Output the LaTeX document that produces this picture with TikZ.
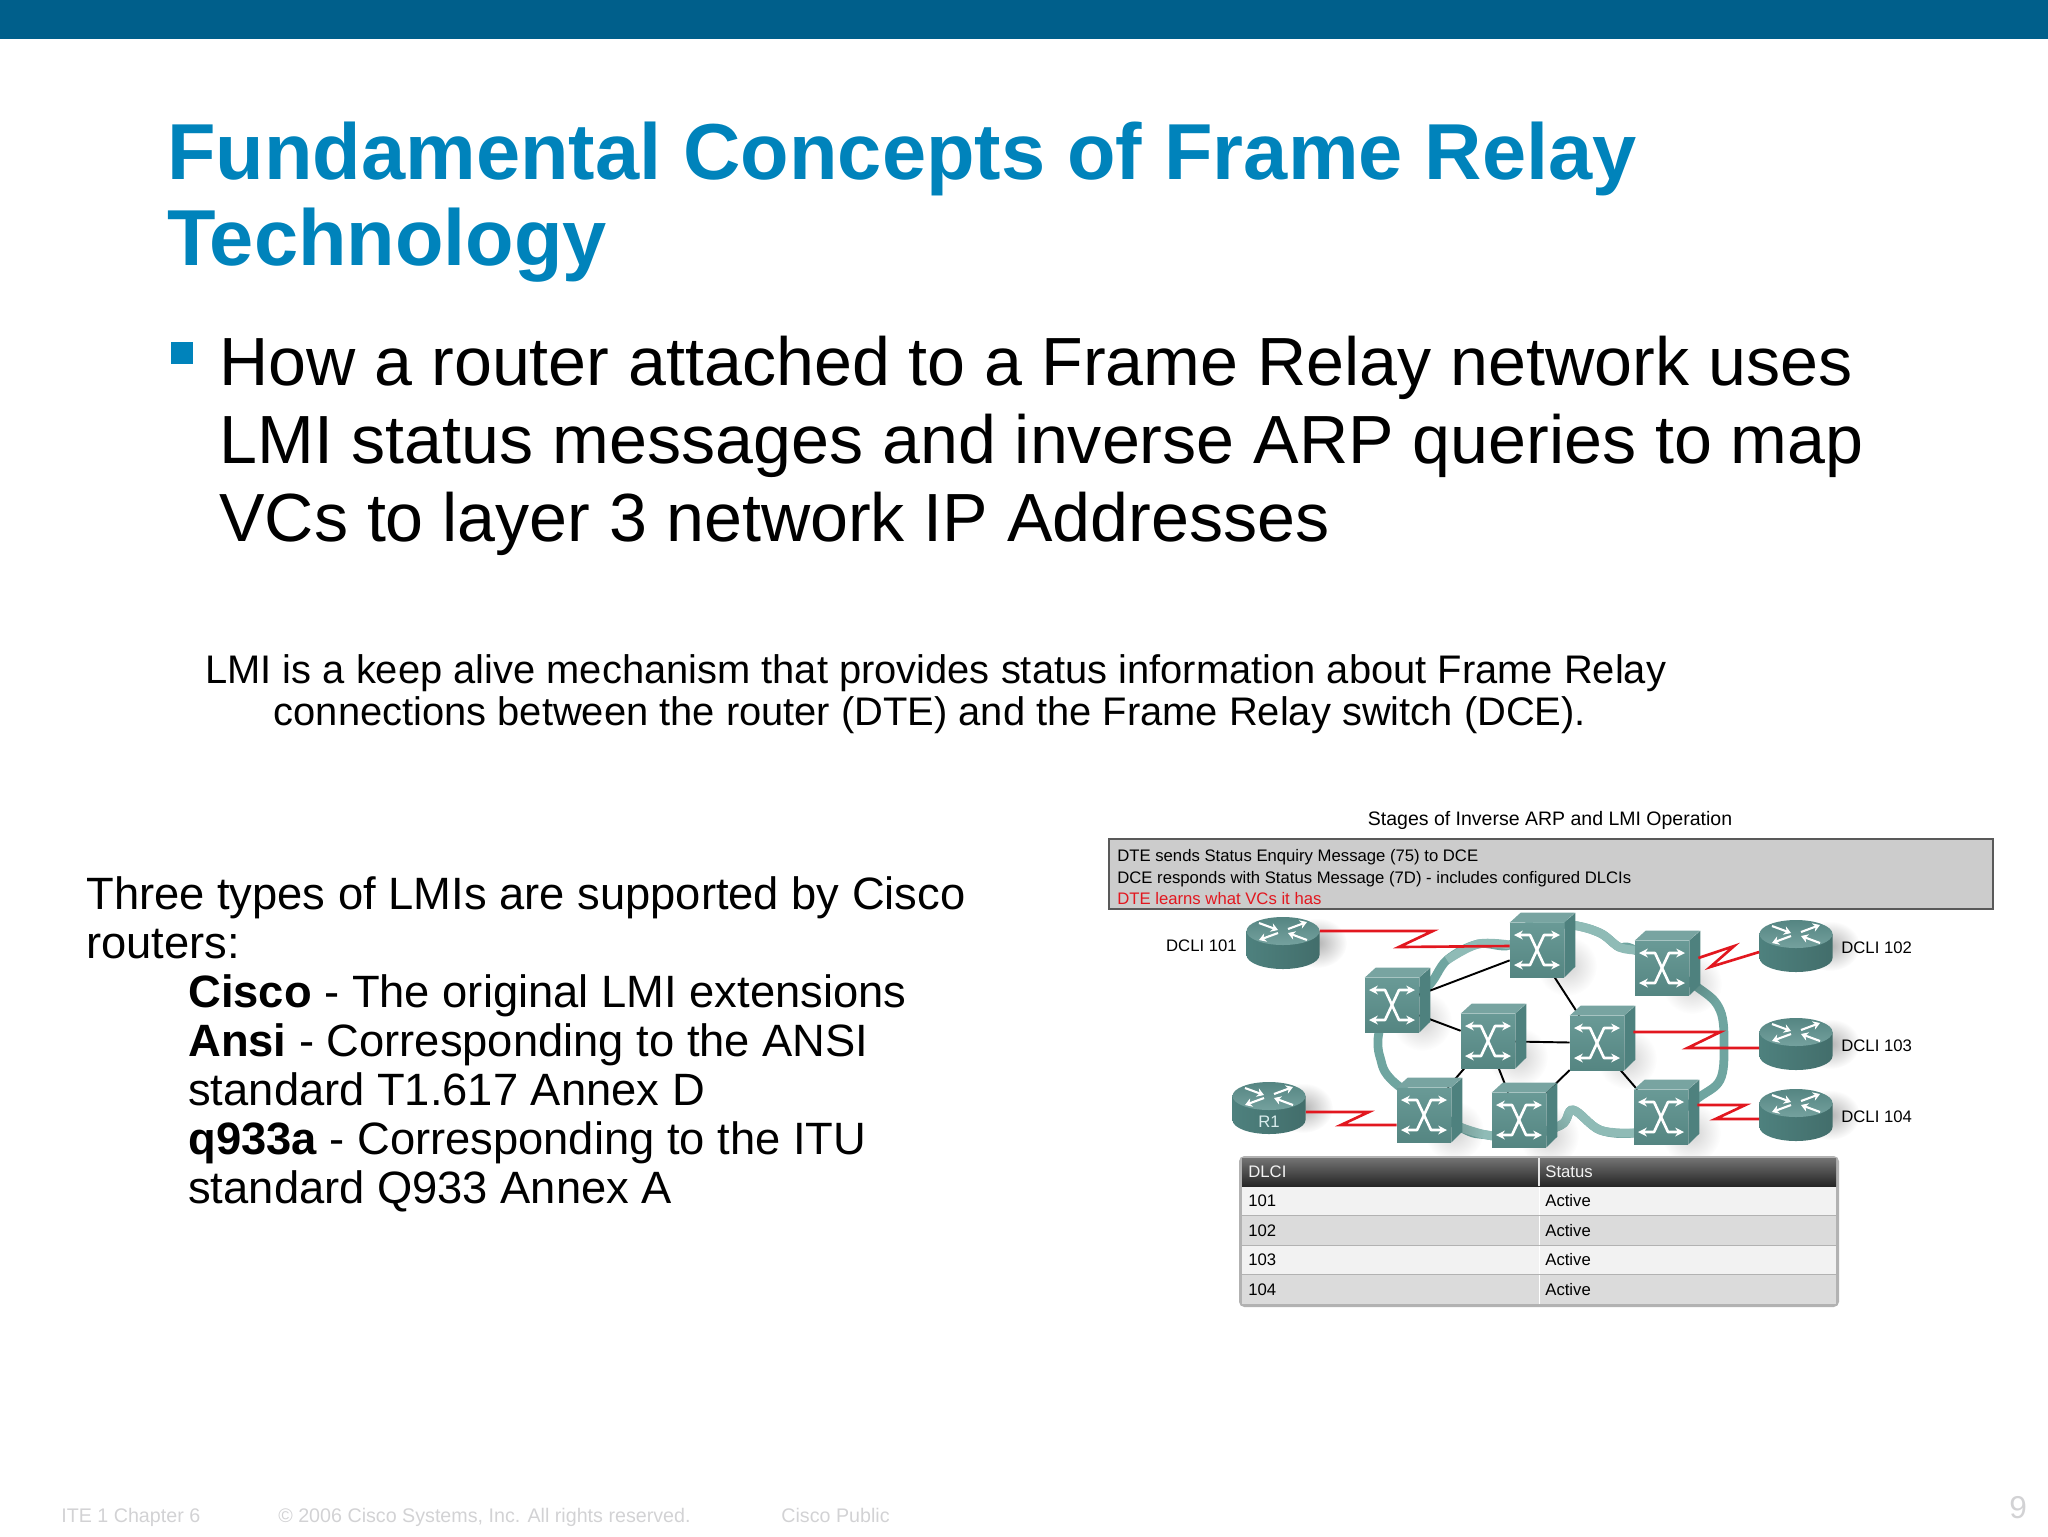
\documentclass[tikz,border=0pt]{standalone}
\usepackage{fontspec}
\setmainfont{Liberation Sans}
\usetikzlibrary{calc,arrows.meta,fadings}
\pgfdeclarelayer{background}
\pgfsetlayers{background,main}
\definecolor{barblue}{HTML}{005F8B}
\definecolor{titleblue}{HTML}{0083BB}
\definecolor{footgray}{HTML}{D2D2D4}
\definecolor{zigred}{HTML}{E2171F}
\definecolor{cloudteal}{HTML}{6FA5A0}
\definecolor{cloudpale}{HTML}{8FBBB6}
\definecolor{swfront}{HTML}{5C918D}
\definecolor{swtop}{HTML}{78A4A1}
\definecolor{swside}{HTML}{4E817E}
\tikzfading[name=softspot,inner color=transparent!0,outer color=transparent!100]
\tikzset{
    txt/.style={inner sep=0pt,anchor=north west,align=left,text=black},
    small/.style={inner sep=0pt,font=\fontsize{9.5pt}{11pt}\selectfont},
    foot/.style={inner sep=0pt,anchor=base west,text=footgray,font=\fontsize{11.2pt}{14pt}\selectfont},
    switchface/.style={inner sep=0pt,minimum width=1.08cm,minimum height=1.08cm,top color=swfront!92!white,bottom color=swfront!92!black},
    zig/.style={draw=zigred,line width=1.5pt,line join=miter},
    link/.style={draw=black,line width=1.1pt},
    xarrow/.style={draw=white,line width=1.5pt,line join=round,{Stealth[length=5pt,width=5pt]}-{Stealth[length=5pt,width=5pt]}},
}
\newcommand{\switchbox}[3]{%
    \fill[black,opacity=0.18,path fading=softspot] (#2+30,#3+16) ellipse [x radius=0.6cm,y radius=0.6cm];
    \node[switchface] (#1) at (#2,#3) {};
    \fill[swtop] (#1.north west) -- ++(11,-10) -- ++(54,0) -- (#1.north east) -- cycle;
    \fill[swside] (#1.north east) -- ++(11,-10) -- ++(0,54) -- (#1.south east) -- cycle;
    \begin{scope}[shift={(#1.center)}]
        \draw[xarrow] (-23,-15) -- (-7,-15) -- (7,15) -- (23,15);
        \draw[xarrow] (23,-15) -- (7,-15) -- (-7,15) -- (-23,15);
    \end{scope}
}
\newcommand{\routerdrum}[4]{%
    \fill[black,opacity=0.3,path fading=softspot] (#2+34,#3) ellipse [x radius=0.6cm,y radius=0.5cm];
    \node[inner sep=0pt,minimum width=1.46cm,minimum height=1.04cm] (#1) at (#2,#3) {};
    \begin{scope}[shift={(#1.center)}]
        \path[left color=swside,middle color=cloudpale,right color=swside!85!black]
            (-36.5,-12) -- (-36.5,12) arc (180:360:0.73cm and 0.28cm) -- (36.5,-12) -- cycle;
        \path[top color=swfront!92!black,bottom color=swfront!85!white] (0,-12) ellipse [x radius=0.73cm,y radius=0.28cm];
        \foreach \xa/\ya/\xb/\yb in {-24/-20/-5/-13,24/-3/5/-10,5/-14/24/-21,-5/-10/-24/-3}
            \draw[white,line width=1.2pt,-{Stealth[length=4pt,width=5pt]}] (\xa,\ya) -- (\xb,\yb);
        \node[inner sep=0pt,text=white!85!teal,font=\fontsize{9.5pt}{11pt}\selectfont] at (0,14) {#4};
    \end{scope}
}
\begin{document}
\begin{tikzpicture}[x=0.02cm,y=-0.02cm]
    \useasboundingbox (0,0) rectangle (2048,1536);
    \fill[barblue] (0,0) rectangle (2048,39);

    % slide text
    \node[txt,text=titleblue,font=\bfseries\fontsize{45.2pt}{49pt}\selectfont] (slidetitle) at (167,122)
        {Fundamental Concepts of Frame Relay\\Technology};
    \fill[titleblue] (171,342) rectangle (193,364);
    \node[txt,font=\fontsize{38.8pt}{44.4pt}\selectfont] (bodytext) at (219,336)
        {How a router attached to a Frame Relay network uses\\LMI status messages and inverse ARP queries to map\\VCs to layer 3 network IP Addresses};
    \node[txt,font=\fontsize{22.7pt}{24.2pt}\selectfont] (lmitext) at (205,654)
        {LMI is a keep alive mechanism that provides status information about Frame Relay\\\hspace*{1.37cm}connections between the router (DTE) and the Frame Relay switch (DCE).};
    \node[txt,font=\fontsize{25.8pt}{27.9pt}\selectfont] (typestext) at (86,876)
        {Three types of LMIs are supported by Cisco\\routers:\\
        \hspace*{2.04cm}\textbf{Cisco} - The original LMI extensions\\
        \hspace*{2.04cm}\textbf{Ansi} - Corresponding to the ANSI\\
        \hspace*{2.04cm}standard T1.617 Annex D\\
        \hspace*{2.04cm}\textbf{q933a} - Corresponding to the ITU\\
        \hspace*{2.04cm}standard Q933 Annex A};

    % status panel
    \node[small,anchor=center,font=\fontsize{11.1pt}{12pt}\selectfont] (stagetitle) at (1550,820) {Stages of Inverse ARP and LMI Operation};
    \draw[draw=black!65,fill=black!20!white,line width=1pt] (1109,839) rectangle (1993,909);
    \node[small,anchor=west] (stageone) at (1117,857) {DTE sends Status Enquiry Message (75) to DCE};
    \node[small,anchor=west] (stagetwo) at (1117,879) {DCE responds with Status Message (7D) - includes configured DLCIs};
    \node[small,anchor=west,text=zigred] (stagethree) at (1117,899) {DTE learns what VCs it has};

    % network
    \switchbox{swa}{1537}{950}
    \switchbox{swb}{1662}{968}
    \switchbox{swc}{1392}{1005}
    \switchbox{swd}{1488}{1041}
    \switchbox{swe}{1597}{1043}
    \switchbox{swf}{1424}{1115}
    \switchbox{swg}{1519}{1120}
    \switchbox{swh}{1661}{1117}
    \routerdrum{rone}{1269}{1108}{R1}
    \routerdrum{rja}{1283}{943}{}
    \routerdrum{rjb}{1796}{946}{}
    \routerdrum{rjc}{1796}{1044}{}
    \routerdrum{rjd}{1796}{1115}{}
    \begin{pgfonlayer}{background}
        \draw[cloudteal,line width=5pt] plot[smooth cycle,tension=0.6] coordinates {(1533,923) (1572,925) (1600,933) (1619,947) (1635,950) (1697,987) (1720,1010) (1724,1047) (1720,1080) (1698,1098) (1662,1123) (1634,1133) (1600,1130) (1573,1110) (1561,1125) (1521,1137) (1487,1135) (1460,1127) (1395,1083) (1380,1057) (1379,1032) (1390,1007) (1427,987) (1447,960) (1478,944) (1510,945)};
        \draw[cloudpale,line width=5pt] plot[smooth,tension=0.6] coordinates {(1533,923) (1572,925) (1600,933) (1619,947) (1635,950)};
        \draw[cloudpale,line width=5pt] plot[smooth,tension=0.6] coordinates {(1634,1133) (1600,1130) (1573,1110) (1561,1125) (1521,1137) (1487,1135) (1460,1127)};
        \draw[cloudpale,line width=5pt] plot[smooth,tension=0.6] coordinates {(1447,960) (1478,944) (1510,945)};
        \draw[link] (swa) -- (swc);
        \draw[link] (swa) -- (swe);
        \draw[link] (swc) -- (swd);
        \draw[link] (swd) -- (swe);
        \draw[link] (swd) -- (swf);
        \draw[link] (swd) -- (swg);
        \draw[link] (swe) -- (swg);
        \draw[link] (swe) -- (swh);
    \end{pgfonlayer}
    \draw[zig] ($(rja.east)+(0,-12)$) -- ++(113,0) -- ++(-34,16) -- ($(swa.west)+(0,-4)$);
    \draw[zig] ($(rjb.west)+(0,6)$) -- ++(-49,15) -- ++(24,-21) -- ($(swb.east)+(9,-10)$);
    \draw[zig] ($(swe.east)+(9,-11)$) -- ++(87,0) -- ++(-33,16) -- ($(rjc.west)+(0,4)$);
    \draw[zig] ($(swh.east)+(9,-12)$) -- ++(48,0) -- ++(-30,14) -- ($(rjd.west)+(0,4)$);
    \draw[zig] ($(rone.east)+(0,4)$) -- ++(63,0) -- ++(-28,13) -- ($(swf.west)+(0,10)$);
    \node[small,anchor=east] (lbla) at (1237,946) {DCLI 101};
    \node[small,anchor=west] (lblb) at (1841,948) {DCLI 102};
    \node[small,anchor=west] (lblc) at (1841,1046) {DCLI 103};
    \node[small,anchor=west] (lbld) at (1841,1117) {DCLI 104};

    % table
    \fill[black!30,rounded corners=3pt] (1239,1156) rectangle (1839,1307);
    \path[top color=black!55,bottom color=black!85] (1242,1158) rectangle (1836,1186);
    \draw[white!80!gray,line width=0.8pt] (1539,1158) -- (1539,1186);
    \node[small,anchor=west,text=white!90!gray] (hdcli) at (1248,1172) {DLCI};
    \node[small,anchor=west,text=white!90!gray] (hstat) at (1545,1172) {Status};
    \foreach \n/\ya/\yb/\tone in {101/1187/1215/5,102/1216/1245/14,103/1246/1274/5,104/1275/1304/14}{
        \fill[black!\tone!white] (1242,\ya) rectangle (1836,\yb);
        \draw[white,line width=0.5pt] (1539,\ya) -- (1539,\yb);
        \node[small,anchor=west] (dlci\n) at (1248,{(\ya+\yb)/2}) {\n};
        \node[small,anchor=west] (stat\n) at (1545,{(\ya+\yb)/2}) {Active};
    }

    % footer
    \node[foot] (foota) at (61,1522) {ITE 1 Chapter 6};
    \node[foot] (footb) at (278,1522) {© 2006 Cisco Systems, Inc. All rights reserved.};
    \node[foot] (footc) at (781,1522) {Cisco Public};
    \node[foot,font=\fontsize{18pt}{19pt}\selectfont] (pagenum) at (2009,1518) {9};
\end{tikzpicture}
\end{document}
